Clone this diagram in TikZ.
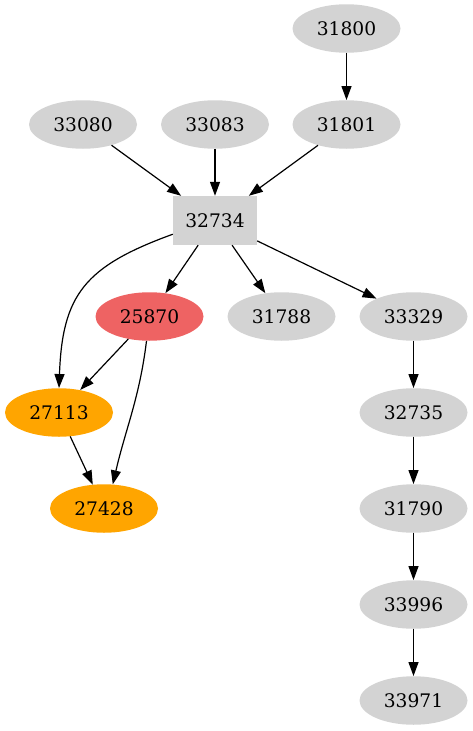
\documentclass[tikz,border=0pt]{standalone}
\usepackage{fontspec}
\setmainfont{DejaVu Serif}
\usetikzlibrary{arrows.meta,shapes.geometric}
\definecolor{lgray}{HTML}{D3D3D3}
\definecolor{ired}{HTML}{EE6363}
\definecolor{gorange}{HTML}{FFA500}
\tikzset{
  gnode/.style={ellipse, fill=#1, draw=none, minimum width=108pt, minimum height=48.5pt, inner sep=0pt, font=\fontsize{18.67}{20}\selectfont},
  gnode/.default=lgray,
  gbox/.style={rectangle, fill=lgray, draw=none, minimum width=84pt, minimum height=49pt, inner sep=0pt, font=\fontsize{18.67}{20}\selectfont},
  edge/.style={draw=black, line width=1.2pt, -{Triangle[length=14pt,width=10pt]}}
}
\begin{document}
\begin{tikzpicture}[x=1pt,y=1pt]
\path[use as bounding box] (0,0) rectangle (473,-731);
\node[gnode] (n31800) at (346.5,-28.5) {31800};
\node[gnode] (n31801) at (346.5,-124.5) {31801};
\node[gnode] (n33080) at (83,-124.5) {33080};
\node[gnode] (n33083) at (215,-124.5) {33083};
\node[gbox] (n32734) at (215,-220.5) {32734};
\node[gnode=ired] (n25870) at (149.5,-316.5) {25870};
\node[gnode] (n31788) at (281.5,-316.5) {31788};
\node[gnode] (n33329) at (413.5,-316.5) {33329};
\node[gnode=gorange] (n27113) at (59,-412.5) {27113};
\node[gnode=gorange] (n27428) at (104,-508.5) {27428};
\node[gnode] (n32735) at (413.5,-412.5) {32735};
\node[gnode] (n31790) at (413.5,-508.5) {31790};
\node[gnode] (n33996) at (413.5,-604.5) {33996};
\node[gnode] (n33971) at (413.5,-700.5) {33971};

\draw[edge] (n31800) -- (n31801);
\draw[edge] (n33080) -- (n32734);
\draw[edge] (n33083) -- (n32734);
\draw[edge] (n31801) -- (n32734);
\draw[edge] (n32734.198) to[out=200, in=88, looseness=1.25] (n27113.90);
\draw[edge] (n32734) -- (n25870);
\draw[edge] (n32734) -- (n31788);
\draw[edge] (n32734) -- (n33329);
\draw[edge] (n25870) -- (n27113);
\draw[edge] (n25870.-97) to[out=-97, in=77] (n27428.70);
\draw[edge] (n27113) -- (n27428);
\draw[edge] (n33329) -- (n32735);
\draw[edge] (n32735) -- (n31790);
\draw[edge] (n31790) -- (n33996);
\draw[edge] (n33996) -- (n33971);
\end{tikzpicture}
\end{document}
